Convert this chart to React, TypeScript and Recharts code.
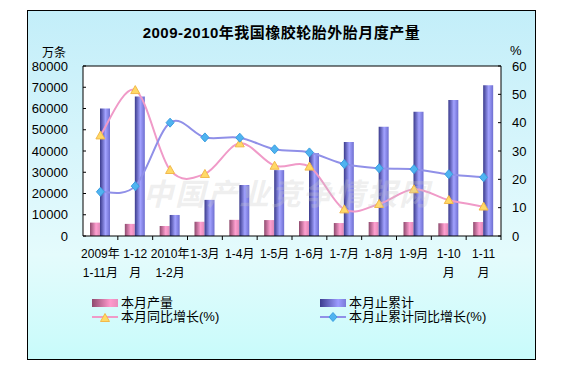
import {
  ComposedChart,
  Bar,
  Line,
  XAxis,
  YAxis,
  CartesianGrid,
  ReferenceLine,
} from 'recharts';

const categories = [
  '2009年1-11月', '2009年1-12月', '2010年1-2月', '2010年1-3月', '2010年1-4月', '2010年1-5月',
  '2010年1-6月', '2010年1-7月', '2010年1-8月', '2010年1-9月', '2010年1-10月', '2010年1-11月',
];
const tickLabels = [
  ['2009年', '1-11月'], ['1-12', '月'], ['2010年', '1-2月'], ['1-3月'], ['1-4月'], ['1-5月'],
  ['1-6月'], ['1-7月'], ['1-8月'], ['1-9月'], ['1-10', '月'], ['1-11', '月'],
];
const monthOutput = [6300, 5700, 4700, 6700, 7600, 7500, 7000, 6100, 6600, 6600, 6000, 6600];
const cumOutput = [60000, 65600, 9900, 17000, 24000, 31000, 39000, 44200, 51400, 58500, 64000, 71000];
const monthYoY = [35.5, 51.5, 23.3, 21.9, 32.7, 24.8, 24.5, 9.4, 11.3, 16.5, 12.7, 10.4];
const cumYoY = [15.6, 17.6, 40, 34.8, 34.7, 30.6, 29.5, 25.4, 23.9, 23.6, 21.8, 20.7];
const leftTicks = [0, 10000, 20000, 30000, 40000, 50000, 60000, 70000, 80000];
const rightTicks = [0, 10, 20, 30, 40, 50, 60];

const data = categories.map((cat, i) => ({
  cat,
  month: monthOutput[i],
  cum: cumOutput[i],
  monthYoY: monthYoY[i],
  cumYoY: cumYoY[i],
}));

const FONT = '"Liberation Sans", Arial, "Noto Sans CJK SC", sans-serif';

// Excel-like smoothed line (catmull-rom through every point)
function excelSmooth(context: any) {
  let pts: number[][] = [];
  return {
    areaStart() {},
    areaEnd() {},
    lineStart() {
      pts = [];
    },
    point(x: number, y: number) {
      pts.push([+x, +y]);
    },
    lineEnd() {
      if (!pts.length) return;
      context.moveTo(pts[0][0], pts[0][1]);
      for (let i = 0; i < pts.length - 1; i++) {
        const p0 = pts[i - 1] || pts[i];
        const p1 = pts[i];
        const p2 = pts[i + 1];
        const p3 = pts[i + 2] || p2;
        const t = 1 / 6;
        context.bezierCurveTo(
          p1[0] + (p2[0] - p0[0]) * t,
          p1[1] + (p2[1] - p0[1]) * t,
          p2[0] - (p3[0] - p1[0]) * t,
          p2[1] - (p3[1] - p1[1]) * t,
          p2[0],
          p2[1],
        );
      }
    },
  };
}

function CategoryTick({ x, y, payload }: any) {
  const lines = tickLabels[payload.index] || [];
  const half = 418 / 12 / 2;
  return (
    <g>
      <line x1={x + half} x2={x + half} y1={y} y2={y + 4} stroke="#000" />
      {lines.map((t, i) => (
        <text
          key={i}
          x={x}
          y={y + 22 + i * 19}
          textAnchor="middle"
          fontSize={12}
          fontFamily={FONT}
          fill="#000"
        >
          {t}
        </text>
      ))}
    </g>
  );
}

function TriangleDot({ cx, cy }: any) {
  if (cx == null || cy == null) return null;
  return (
    <polygon
      points={`${cx},${cy - 4.5} ${cx + 4.5},${cy + 3.5} ${cx - 4.5},${cy + 3.5}`}
      fill="#ffd966"
      stroke="#f2b84b"
      strokeWidth={1}
    />
  );
}

function DiamondDot({ cx, cy }: any) {
  if (cx == null || cy == null) return null;
  return (
    <polygon
      points={`${cx},${cy - 4.5} ${cx + 4},${cy} ${cx},${cy + 4.5} ${cx - 4},${cy}`}
      fill="#4fb3f0"
      stroke="#3a9ee0"
      strokeWidth={1}
    />
  );
}

function LegendItem({ left, top, kind, label }: any) {
  let mark;
  if (kind === 'pinkBar') {
    mark = (
      <div style={{ width: 26, height: 8, background: 'linear-gradient(to right, #8e4a6e, #ff99cc 70%, #e88cbc)' }} />
    );
  } else if (kind === 'blueBar') {
    mark = (
      <div style={{ width: 26, height: 8, background: 'linear-gradient(to right, #3c3c8e, #9c9cff 70%, #7a7ad8)' }} />
    );
  } else {
    const pink = kind === 'pinkLine';
    mark = (
      <svg width={26} height={10}>
        <line x1={0} x2={26} y1={5} y2={5} stroke={pink ? '#f09ac8' : '#9090e8'} strokeWidth={2} />
        {pink ? <TriangleDot cx={13} cy={6} /> : <DiamondDot cx={13} cy={5} />}
      </svg>
    );
  }
  return (
    <div
      style={{
        position: 'absolute',
        left,
        top,
        height: 13,
        display: 'flex',
        alignItems: 'center',
        gap: 3,
        fontSize: 13,
        lineHeight: '13px',
        fontFamily: FONT,
        color: '#000',
        whiteSpace: 'nowrap',
      }}
    >
      {mark}
      <span>{label}</span>
    </div>
  );
}

export default function App() {
  return (
    <div style={{ position: 'absolute', left: 0, top: 0, width: 573, height: 380, background: '#fff' }}>
      <div
        style={{
          position: 'absolute',
          left: 27,
          top: 10,
          width: 509,
          height: 350,
          boxSizing: 'border-box',
          border: '1px solid #000',
          background: 'linear-gradient(to bottom, #c3eef9 0%, #def8fc 55%, #e4fbfc 70%, #c8fbfb 100%)',
        }}
      />
      <div
        style={{
          position: 'absolute',
          left: 27,
          width: 509,
          top: 21,
          textAlign: 'center',
          fontSize: 15,
          fontWeight: 'bold',
          letterSpacing: 0.5,
          fontFamily: FONT,
          color: '#000',
        }}
      >
        2009-2010年我国橡胶轮胎外胎月度产量
      </div>
      <div style={{ position: 'absolute', left: 42, top: 43, fontSize: 12, fontFamily: FONT, color: '#000' }}>万条</div>
      <div style={{ position: 'absolute', left: 510, top: 43, fontSize: 13, fontFamily: FONT, color: '#000' }}>%</div>

      <div style={{ position: 'absolute', left: 0, top: 0 }}>
        <ComposedChart
          width={573}
          height={380}
          data={data}
          margin={{ top: 66, right: 32, left: 0, bottom: 104 }}
          barSize={10}
          barGap={0}
        >
          <defs>
            <linearGradient id="pinkBar" x1="0" y1="0" x2="1" y2="0">
              <stop offset="0%" stopColor="#8e4a6e" />
              <stop offset="60%" stopColor="#ff9fd0" />
              <stop offset="100%" stopColor="#e08ab8" />
            </linearGradient>
            <linearGradient id="blueBar" x1="0" y1="0" x2="1" y2="0">
              <stop offset="0%" stopColor="#3a3a8c" />
              <stop offset="55%" stopColor="#a2a2ff" />
              <stop offset="100%" stopColor="#6e6ed0" />
            </linearGradient>
          </defs>
          <CartesianGrid fill="#fff" horizontal={false} vertical={false} />
          <XAxis
            dataKey="cat"
            interval={0}
            tickLine={false}
            tickSize={0}
            tickMargin={0}
            height={40}
            axisLine={{ stroke: '#000' }}
            tick={<CategoryTick />}
          />
          <YAxis
            yAxisId="left"
            domain={[0, 80000]}
            ticks={leftTicks}
            width={83}
            tickSize={-3}
            tickMargin={18}
            axisLine={{ stroke: '#000' }}
            tickLine={{ stroke: '#000' }}
            tick={{ fill: '#000', fontSize: 13, fontFamily: FONT }}
            interval={0}
          />
          <YAxis
            yAxisId="right"
            orientation="right"
            domain={[0, 60]}
            ticks={rightTicks}
            width={40}
            tickSize={-3}
            tickMargin={14}
            axisLine={{ stroke: '#000' }}
            tickLine={{ stroke: '#000' }}
            tick={{ fill: '#000', fontSize: 13, fontFamily: FONT }}
            interval={0}
          />
          <ReferenceLine yAxisId="left" y={80000} stroke="#000" />
          <Bar yAxisId="left" dataKey="month" fill="url(#pinkBar)" isAnimationActive={false} />
          <Bar yAxisId="left" dataKey="cum" fill="url(#blueBar)" isAnimationActive={false} />
          <Line
            yAxisId="right"
            dataKey="monthYoY"
            type={excelSmooth as any}
            stroke="#f09ac8"
            strokeWidth={2}
            dot={(p: any) => <TriangleDot key={`t${p.index}`} cx={p.cx} cy={p.cy} />}
            activeDot={false}
            isAnimationActive={false}
          />
          <Line
            yAxisId="right"
            dataKey="cumYoY"
            type={excelSmooth as any}
            stroke="#9090e8"
            strokeWidth={2}
            dot={(p: any) => <DiamondDot key={`d${p.index}`} cx={p.cx} cy={p.cy} />}
            activeDot={false}
            isAnimationActive={false}
          />
        </ComposedChart>
      </div>

      <div
        style={{
          position: 'absolute',
          left: 143,
          top: 170,
          fontSize: 30,
          fontWeight: 'bold',
          letterSpacing: 2,
          fontStyle: 'italic',
          fontFamily: '"Noto Sans CJK SC", sans-serif',
          color: 'rgba(200, 200, 200, 0.3)',
          pointerEvents: 'none',
          whiteSpace: 'nowrap',
        }}
      >
        中国产业竞争情报网
      </div>

      <LegendItem left={92} top={296} kind="pinkBar" label="本月产量" />
      <LegendItem left={92} top={310} kind="pinkLine" label="本月同比增长(%)" />
      <LegendItem left={320} top={296} kind="blueBar" label="本月止累计" />
      <LegendItem left={320} top={310} kind="blueLine" label="本月止累计同比增长(%)" />
    </div>
  );
}
